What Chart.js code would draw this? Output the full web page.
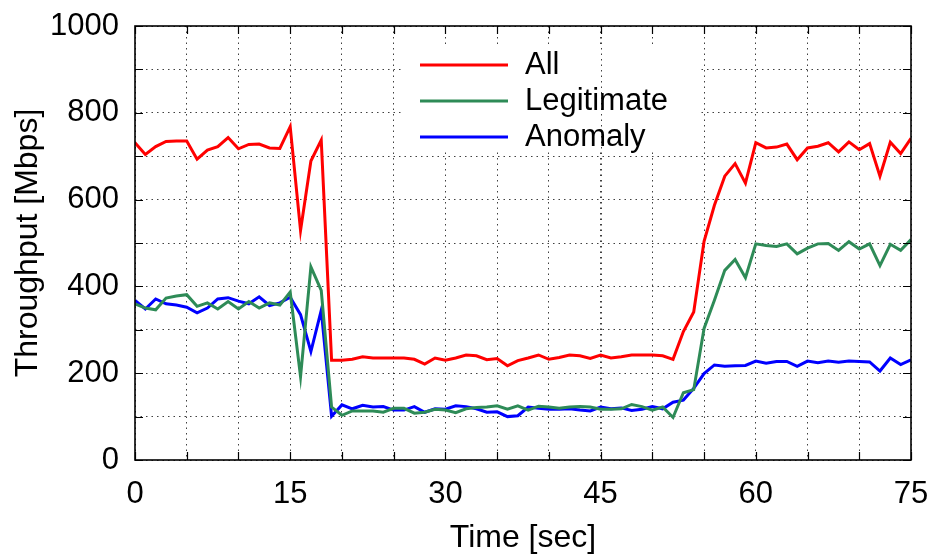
<!DOCTYPE html>
<html>
<head>
<meta charset="utf-8">
<script src="https://cdn.jsdelivr.net/npm/chart.js@4/dist/chart.umd.min.js"></script>
<style>
  html, body { margin: 0; padding: 0; background: #fff; }
  #wrap { width: 935px; height: 554px; }
</style>
</head>
<body>
<div id="wrap"><canvas id="chart" width="935" height="554"></canvas></div>
<script>
// time axis (sec)
const times = [0, 1, 2, 3, 4, 5, 6, 7, 8, 9, 10, 11, 12, 13, 14, 15, 16, 17, 18, 19,
    20, 21, 22, 23, 24, 25, 26, 27, 28, 29, 30, 31, 32, 33, 34, 35, 36, 37, 38, 39,
    40, 41, 42, 43, 44, 45, 46, 47, 48, 49, 50, 51, 52, 53, 54, 55, 56, 57, 58, 59,
    60, 61, 62, 63, 64, 65, 66, 67, 68, 69, 70, 71, 72, 73, 74, 75];

// throughput [Mbps]
const allTraffic = [731, 704, 722, 734, 735, 735, 693, 714, 722, 743, 717, 727, 728, 719, 718, 768,
    529, 689, 737, 230, 230, 232, 238, 235, 235, 235, 235, 232, 221, 235, 230, 235, 242, 240, 231,
    234, 217, 229, 235, 242, 232, 236, 242, 240, 234, 242, 235, 238, 242, 242, 242, 240, 232, 296,
    341, 504, 587, 654, 683, 638, 731, 719, 721, 728, 692, 719, 723, 731, 710, 733, 715, 729, 654,
    732, 706, 741];

const legitimate = [360, 350, 346, 373, 378, 381, 354, 362, 348, 365, 348, 365, 350, 362, 357, 387,
    192, 445, 391, 122, 103, 113, 113, 113, 110, 119, 119, 108, 110, 117, 115, 109, 118, 121, 122,
    125, 117, 125, 115, 124, 122, 119, 122, 123, 122, 117, 117, 118, 128, 123, 115, 122, 98, 155,
    162, 303, 368, 437, 462, 420, 498, 494, 492, 498, 475, 488, 498, 499, 483, 503, 486, 498, 448,
    497, 483, 508];

const anomaly = [368, 348, 371, 360, 357, 352, 339, 350, 371, 374, 366, 360, 376, 356, 362, 375,
    335, 250, 345, 101, 127, 118, 126, 122, 123, 115, 115, 123, 110, 118, 117, 125, 123, 118, 110,
    111, 100, 102, 122, 119, 117, 117, 118, 115, 113, 122, 118, 120, 114, 117, 123, 118, 133, 138,
    165, 199, 219, 216, 217, 218, 228, 223, 227, 227, 216, 228, 224, 228, 225, 228, 227, 226, 205,
    235, 220, 231];

const seriesNames = ['All', 'Legitimate', 'Anomaly'];
const seriesColors = ['#ff0000', '#2e8b57', '#0000ff'];

const FONT = '"Liberation Sans", Arial, Helvetica, sans-serif';

function toPoints(values) {
    return times.map((t, i) => ({ x: t, y: values[i] }));
}

// white legend box, inner tick marks, frame and legend entries
const gnuplotFrame = {
    id: 'gnuplotFrame',
    beforeDatasetsDraw(chart) {
        const ctx = chart.ctx;
        const xs = chart.scales.x;
        const ys = chart.scales.y;
        ctx.save();
        ctx.fillStyle = '#fff';
        ctx.fillRect(402, 48, 298, 104);
        // the 45 s grid line shows through the legend in the original
        const gx = Math.round(xs.getPixelForValue(45)) + 0.5;
        ctx.strokeStyle = 'rgba(0,0,0,0.75)';
        ctx.lineWidth = 1;
        ctx.setLineDash([1.5, 4]);
        ctx.beginPath();
        ctx.moveTo(gx, ys.getPixelForValue(1000));
        ctx.lineTo(gx, ys.getPixelForValue(0));
        ctx.stroke();
        ctx.restore();
    },
    afterDatasetsDraw(chart) {
        const ctx = chart.ctx;
        const a = chart.chartArea;
        const xs = chart.scales.x;
        const ys = chart.scales.y;
        const len = 8;
        ctx.save();
        ctx.strokeStyle = '#000';
        ctx.lineWidth = 1.2;
        ctx.setLineDash([]);
        ctx.beginPath();
        for (let t = 0; t <= 75; t += 5) {
            const px = Math.round(xs.getPixelForValue(t)) + 0.5;
            ctx.moveTo(px, a.bottom); ctx.lineTo(px, a.bottom - len);
            ctx.moveTo(px, a.top); ctx.lineTo(px, a.top + len);
        }
        for (let v = 0; v <= 1000; v += 100) {
            const py = Math.round(ys.getPixelForValue(v)) + 0.5;
            ctx.moveTo(a.left, py); ctx.lineTo(a.left + len, py);
            ctx.moveTo(a.right, py); ctx.lineTo(a.right - len, py);
        }
        ctx.stroke();
        ctx.lineWidth = 1.6;
        ctx.strokeRect(a.left, a.top, a.right - a.left, a.bottom - a.top);

        // legend
        const rows = [65, 101, 137];
        ctx.font = '31px ' + FONT;
        ctx.textBaseline = 'middle';
        ctx.textAlign = 'left';
        ctx.fillStyle = '#000';
        chart.data.datasets.forEach((ds, i) => {
            ctx.strokeStyle = ds.borderColor;
            ctx.lineWidth = 3;
            ctx.beginPath();
            ctx.moveTo(420, rows[i]);
            ctx.lineTo(508, rows[i]);
            ctx.stroke();
            ctx.fillText(ds.label, 525, rows[i]);
        });
        ctx.restore();
    }
};

const ctx = document.getElementById('chart').getContext('2d');
const chart = new Chart(ctx, {
    type: 'line',
    data: {
        datasets: [
            { label: seriesNames[0], data: toPoints(allTraffic), borderColor: seriesColors[0] },
            { label: seriesNames[1], data: toPoints(legitimate), borderColor: seriesColors[1] },
            { label: seriesNames[2], data: toPoints(anomaly), borderColor: seriesColors[2] }
        ]
    },
    options: {
        responsive: false,
        animation: false,
        layout: { padding: { top: 26, right: 24, bottom: 0, left: 0 } },
        elements: {
            point: { radius: 0 },
            line: { borderWidth: 3, tension: 0, fill: false }
        },
        plugins: {
            legend: { display: false },
            tooltip: { enabled: false }
        },
        scales: {
            x: {
                type: 'linear',
                min: 0,
                max: 75,
                ticks: {
                    stepSize: 5,
                    maxTicksLimit: 100,
                    autoSkip: false,
                    maxRotation: 0,
                    padding: 4,
                    color: '#000',
                    // tall line box keeps the labels low without a big tick padding
                    font: { size: 31, family: FONT, lineHeight: 1.94 },
                    callback: v => (v % 15 === 0 ? String(v) : '')
                },
                grid: { color: 'rgba(0,0,0,0.75)', lineWidth: 1, drawTicks: false },
                border: { display: false, dash: [1.5, 4] },
                title: {
                    display: true,
                    text: 'Time [sec]',
                    color: '#000',
                    font: { size: 32, family: FONT, lineHeight: 1 },
                    padding: { top: 0, bottom: 0 }
                },
                afterFit: s => { s.height = 94; }
            },
            y: {
                min: 0,
                max: 1000,
                ticks: {
                    stepSize: 100,
                    maxTicksLimit: 100,
                    autoSkip: false,
                    padding: 16,
                    color: '#000',
                    font: { size: 31, family: FONT, lineHeight: 0.6 },
                    callback: v => (v % 200 === 0 ? String(v) : '')
                },
                grid: { color: 'rgba(0,0,0,0.75)', lineWidth: 1, drawTicks: false },
                border: { display: false, dash: [1.5, 4] },
                title: {
                    display: true,
                    text: 'Throughput [Mbps]',
                    color: '#000',
                    font: { size: 32, family: FONT, lineHeight: 1 },
                    padding: { top: 12, bottom: 0 }
                },
                afterFit: s => { s.width = 135; }
            }
        }
    },
    plugins: [gnuplotFrame]
});
</script>
</body>
</html>
